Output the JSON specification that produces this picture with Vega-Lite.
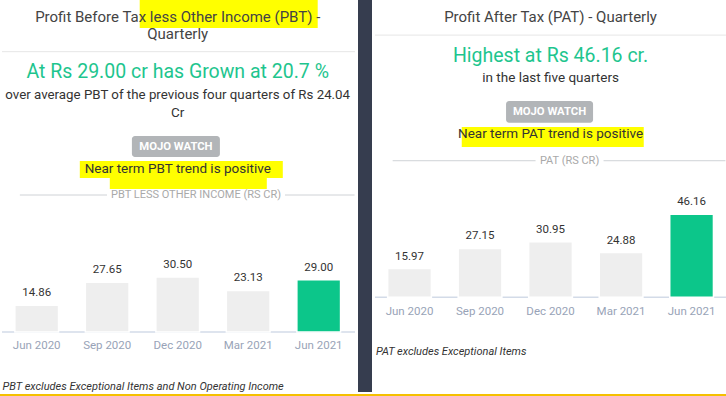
{
  "$schema": "https://vega.github.io/schema/vega-lite/v6.json",
  "padding": 0,
  "background": "white",
  "spacing": 0,
  "config": {
    "view": {"stroke": null},
    "axis": {"disable": true},
    "concat": {"spacing": 0},
    "text": {"font": "Roboto"}
  },
  "datasets": {
    "pbt": [
      {"quarter": "Jun 2020", "value": 14.86},
      {"quarter": "Sep 2020", "value": 27.65},
      {"quarter": "Dec 2020", "value": 30.5},
      {"quarter": "Mar 2021", "value": 23.13},
      {"quarter": "Jun 2021", "value": 29.0}
    ],
    "pat": [
      {"quarter": "Jun 2020", "value": 15.97},
      {"quarter": "Sep 2020", "value": 27.15},
      {"quarter": "Dec 2020", "value": 30.95},
      {"quarter": "Mar 2021", "value": 24.88},
      {"quarter": "Jun 2021", "value": 46.16}
    ],
    "one": [{}]
  },
  "vconcat": [
    {
      "hconcat": [
        {
          "width": 358,
          "height": 392,
          "data": {"name": "pbt"},
          "layer": [
            {
              "data": {"name": "one"},
              "mark": {"type": "bar", "color": "#ffff00", "width": 178, "xOffset": 51},
              "encoding": {
                "x": {"datum": "Dec 2020", "type": "nominal", "scale": {"domain": ["Jun 2020", "Sep 2020", "Dec 2020", "Mar 2021", "Jun 2021"], "paddingInner": 0.38, "paddingOuter": 0.229, "align": 0.46}},
                "y": {"datum": 168.9, "type": "quantitative", "scale": {"domain": [-33.3, 184.4], "nice": false, "zero": false}},
                "y2": {"datum": 184.4}
              }
            },
            {
              "data": {"name": "one"},
              "mark": {"type": "bar", "color": "#ffff00", "width": 203, "xOffset": 3.6},
              "encoding": {
                "x": {"datum": "Dec 2020", "type": "nominal"},
                "y": {"datum": 85.6, "type": "quantitative"},
                "y2": {"datum": 95}
              }
            },
            {
              "data": {"name": "one"},
              "mark": {"type": "bar", "color": "#ffff00", "width": 157, "xOffset": 10.6},
              "encoding": {
                "x": {"datum": "Dec 2020", "type": "nominal"},
                "y": {"datum": 79.4, "type": "quantitative"},
                "y2": {"datum": 85.7}
              }
            },
            {
              "data": {"name": "one"},
              "mark": {"type": "text", "fontSize": 15, "color": "#444444"},
              "encoding": {
                "x": {"datum": "Dec 2020", "type": "nominal"},
                "y": {"datum": 175.2, "type": "quantitative"},
                "text": {"value": "Profit Before Tax less Other Income (PBT) -"}
              }
            },
            {
              "data": {"name": "one"},
              "mark": {"type": "text", "fontSize": 15, "color": "#444444"},
              "encoding": {
                "x": {"datum": "Dec 2020", "type": "nominal"},
                "y": {"datum": 165.6, "type": "quantitative"},
                "text": {"value": "Quarterly"}
              }
            },
            {
              "data": {"name": "one"},
              "mark": {"type": "rule", "color": "#e6e6e6", "strokeWidth": 1, "xOffset": -12.85, "x2Offset": 14.4},
              "encoding": {
                "x": {"datum": "Jun 2020", "type": "nominal", "bandPosition": 0},
                "x2": {"datum": "Jun 2021", "bandPosition": 1},
                "y": {"datum": 155.7, "type": "quantitative"}
              }
            },
            {
              "data": {"name": "one"},
              "mark": {"type": "text", "fontSize": 19.5, "color": "#1ec58e"},
              "encoding": {
                "x": {"datum": "Dec 2020", "type": "nominal"},
                "y": {"datum": 144.2, "type": "quantitative"},
                "text": {"value": "At Rs 29.00 cr has Grown at 20.7 %"}
              }
            },
            {
              "data": {"name": "one"},
              "mark": {"type": "text", "fontSize": 13.3, "color": "#333333"},
              "encoding": {
                "x": {"datum": "Dec 2020", "type": "nominal"},
                "y": {"datum": 131.7, "type": "quantitative"},
                "text": {"value": "over average PBT of the previous four quarters of Rs 24.04"}
              }
            },
            {
              "data": {"name": "one"},
              "mark": {"type": "text", "fontSize": 13.5, "color": "#333333"},
              "encoding": {
                "x": {"datum": "Dec 2020", "type": "nominal"},
                "y": {"datum": 121.7, "type": "quantitative"},
                "text": {"value": "Cr"}
              }
            },
            {
              "data": {"name": "one"},
              "mark": {"type": "bar", "color": "#b2b5b8", "width": 88, "xOffset": -1.8, "cornerRadius": 3},
              "encoding": {
                "x": {"datum": "Dec 2020", "type": "nominal"},
                "y": {"datum": 97.2, "type": "quantitative"},
                "y2": {"datum": 108.9}
              }
            },
            {
              "data": {"name": "one"},
              "mark": {"type": "text", "fontSize": 11.3, "fontWeight": "bold", "color": "#ffffff", "xOffset": -1.8},
              "encoding": {
                "x": {"datum": "Dec 2020", "type": "nominal"},
                "y": {"datum": 102.9, "type": "quantitative"},
                "text": {"value": "MOJO WATCH"}
              }
            },
            {
              "data": {"name": "one"},
              "mark": {"type": "text", "fontSize": 13.5, "color": "#333333"},
              "encoding": {
                "x": {"datum": "Dec 2020", "type": "nominal"},
                "y": {"datum": 90.3, "type": "quantitative"},
                "text": {"value": "Near term PBT trend is positive"}
              }
            },
            {
              "data": {"name": "one"},
              "mark": {"type": "rule", "color": "#cfd2d6", "strokeWidth": 1, "xOffset": 5, "x2Offset": 14},
              "encoding": {
                "x": {"datum": "Jun 2020", "type": "nominal", "bandPosition": 0},
                "x2": {"datum": "Jun 2021", "bandPosition": 1},
                "y": {"datum": 76.1, "type": "quantitative"}
              }
            },
            {
              "data": {"name": "one"},
              "mark": {"type": "bar", "color": "#ffffff", "width": 178, "xOffset": 18.3},
              "encoding": {
                "x": {"datum": "Dec 2020", "type": "nominal"},
                "y": {"datum": 72.5, "type": "quantitative"},
                "y2": {"datum": 79.2}
              }
            },
            {
              "data": {"name": "one"},
              "mark": {"type": "text", "fontSize": 11, "color": "#a9a9a9", "xOffset": 18.3},
              "encoding": {
                "x": {"datum": "Dec 2020", "type": "nominal"},
                "y": {"datum": 76.1, "type": "quantitative"},
                "text": {"value": "PBT LESS OTHER INCOME (RS CR)"}
              }
            },
            {
              "data": {"name": "one"},
              "mark": {"type": "rule", "color": "#d3dbe8", "strokeWidth": 1.5, "xOffset": -12.85, "x2Offset": 14.4},
              "encoding": {
                "x": {"datum": "Jun 2020", "type": "nominal", "bandPosition": 0},
                "x2": {"datum": "Jun 2021", "bandPosition": 1},
                "y": {"datum": 0, "type": "quantitative"}
              }
            },
            {
              "mark": {"type": "bar", "stroke": "#ffffff", "strokeWidth": 1.5},
              "encoding": {
                "x": {"field": "quarter", "type": "nominal", "sort": null, "axis": null},
                "y": {"field": "value", "type": "quantitative", "axis": null},
                "color": {"condition": {"test": "datum.quarter === 'Jun 2021'", "value": "#0cc68a"}, "value": "#eeeeee"}
              }
            },
            {
              "mark": {"type": "text", "fontSize": 11.5, "color": "#333333", "baseline": "alphabetic", "dy": -9},
              "encoding": {
                "x": {"field": "quarter", "type": "nominal", "sort": null},
                "y": {"field": "value", "type": "quantitative"},
                "text": {"field": "value", "type": "quantitative", "format": ".2f"}
              }
            },
            {
              "mark": {"type": "text", "fontSize": 11.5, "color": "#98a3b7"},
              "encoding": {
                "x": {"field": "quarter", "type": "nominal", "sort": null},
                "y": {"datum": -7.8, "type": "quantitative"},
                "text": {"field": "quarter"}
              }
            },
            {
              "data": {"name": "one"},
              "mark": {"type": "text", "fontSize": 11, "fontStyle": "italic", "color": "#333333", "align": "left", "xOffset": -12.3},
              "encoding": {
                "x": {"datum": "Jun 2020", "type": "nominal", "bandPosition": 0},
                "y": {"datum": -30.6, "type": "quantitative"},
                "text": {"value": "PBT excludes Exceptional Items and Non Operating Income"}
              }
            }
          ]
        },
        {
          "width": 14,
          "height": 392,
          "view": {"fill": "#363d4f", "stroke": null},
          "data": {"name": "one"},
          "mark": {"type": "point", "opacity": 0},
          "encoding": {}
        },
        {
          "width": 354,
          "height": 392,
          "data": {"name": "pat"},
          "layer": [
            {
              "data": {"name": "one"},
              "mark": {"type": "bar", "color": "#ffff00", "width": 182, "xOffset": 2.2},
              "encoding": {
                "x": {"datum": "Dec 2020", "type": "nominal", "scale": {"domain": ["Jun 2020", "Sep 2020", "Dec 2020", "Mar 2021", "Jun 2021"], "paddingInner": 0.38, "paddingOuter": 0.2, "align": 0.555}},
                "y": {"datum": 83.5, "type": "quantitative", "scale": {"domain": [-52.6, 165.2], "nice": false, "zero": false}},
                "y2": {"datum": 94.6}
              }
            },
            {
              "data": {"name": "one"},
              "mark": {"type": "text", "fontSize": 15, "color": "#444444"},
              "encoding": {
                "x": {"datum": "Dec 2020", "type": "nominal"},
                "y": {"datum": 155.7, "type": "quantitative"},
                "text": {"value": "Profit After Tax (PAT) - Quarterly"}
              }
            },
            {
              "data": {"name": "one"},
              "mark": {"type": "rule", "color": "#e6e6e6", "strokeWidth": 1, "xOffset": -12.65, "x2Offset": 12.5},
              "encoding": {
                "x": {"datum": "Jun 2020", "type": "nominal", "bandPosition": 0},
                "x2": {"datum": "Jun 2021", "bandPosition": 1},
                "y": {"datum": 145.7, "type": "quantitative"}
              }
            },
            {
              "data": {"name": "one"},
              "mark": {"type": "text", "fontSize": 19.5, "color": "#1ec58e"},
              "encoding": {
                "x": {"datum": "Dec 2020", "type": "nominal"},
                "y": {"datum": 134.1, "type": "quantitative"},
                "text": {"value": "Highest at Rs 46.16 cr."}
              }
            },
            {
              "data": {"name": "one"},
              "mark": {"type": "text", "fontSize": 13.5, "color": "#333333"},
              "encoding": {
                "x": {"datum": "Dec 2020", "type": "nominal"},
                "y": {"datum": 121.8, "type": "quantitative"},
                "text": {"value": "in the last five quarters"}
              }
            },
            {
              "data": {"name": "one"},
              "mark": {"type": "bar", "color": "#b2b5b8", "width": 87, "xOffset": -1, "cornerRadius": 3},
              "encoding": {
                "x": {"datum": "Dec 2020", "type": "nominal"},
                "y": {"datum": 97.0, "type": "quantitative"},
                "y2": {"datum": 109.1}
              }
            },
            {
              "data": {"name": "one"},
              "mark": {"type": "text", "fontSize": 11.3, "fontWeight": "bold", "color": "#ffffff", "xOffset": -1},
              "encoding": {
                "x": {"datum": "Dec 2020", "type": "nominal"},
                "y": {"datum": 103.1, "type": "quantitative"},
                "text": {"value": "MOJO WATCH"}
              }
            },
            {
              "data": {"name": "one"},
              "mark": {"type": "text", "fontSize": 13.5, "color": "#333333"},
              "encoding": {
                "x": {"datum": "Dec 2020", "type": "nominal"},
                "y": {"datum": 90.7, "type": "quantitative"},
                "text": {"value": "Near term PAT trend is positive"}
              }
            },
            {
              "data": {"name": "one"},
              "mark": {"type": "rule", "color": "#cfd2d6", "strokeWidth": 1, "xOffset": 5, "x2Offset": 12},
              "encoding": {
                "x": {"datum": "Jun 2020", "type": "nominal", "bandPosition": 0},
                "x2": {"datum": "Jun 2021", "bandPosition": 1},
                "y": {"datum": 75.9, "type": "quantitative"}
              }
            },
            {
              "data": {"name": "one"},
              "mark": {"type": "bar", "color": "#ffffff", "width": 68, "xOffset": 19},
              "encoding": {
                "x": {"datum": "Dec 2020", "type": "nominal"},
                "y": {"datum": 72.3, "type": "quantitative"},
                "y2": {"datum": 79.5}
              }
            },
            {
              "data": {"name": "one"},
              "mark": {"type": "text", "fontSize": 11, "color": "#a9a9a9", "xOffset": 19},
              "encoding": {
                "x": {"datum": "Dec 2020", "type": "nominal"},
                "y": {"datum": 75.9, "type": "quantitative"},
                "text": {"value": "PAT (RS CR)"}
              }
            },
            {
              "data": {"name": "one"},
              "mark": {"type": "rule", "color": "#d3dbe8", "strokeWidth": 1.5, "xOffset": -12.65, "x2Offset": 12.5},
              "encoding": {
                "x": {"datum": "Jun 2020", "type": "nominal", "bandPosition": 0},
                "x2": {"datum": "Jun 2021", "bandPosition": 1},
                "y": {"datum": 0, "type": "quantitative"}
              }
            },
            {
              "mark": {"type": "bar", "stroke": "#ffffff", "strokeWidth": 1.5},
              "encoding": {
                "x": {"field": "quarter", "type": "nominal", "sort": null, "axis": null},
                "y": {"field": "value", "type": "quantitative", "axis": null},
                "color": {"condition": {"test": "datum.quarter === 'Jun 2021'", "value": "#0cc68a"}, "value": "#eeeeee"}
              }
            },
            {
              "mark": {"type": "text", "fontSize": 11.5, "color": "#333333", "baseline": "alphabetic", "dy": -9},
              "encoding": {
                "x": {"field": "quarter", "type": "nominal", "sort": null},
                "y": {"field": "value", "type": "quantitative"},
                "text": {"field": "value", "type": "quantitative", "format": ".2f"}
              }
            },
            {
              "mark": {"type": "text", "fontSize": 11.5, "color": "#98a3b7"},
              "encoding": {
                "x": {"field": "quarter", "type": "nominal", "sort": null},
                "y": {"datum": -8.0, "type": "quantitative"},
                "text": {"field": "quarter"}
              }
            },
            {
              "data": {"name": "one"},
              "mark": {"type": "text", "fontSize": 11, "fontStyle": "italic", "color": "#333333", "align": "left", "xOffset": -11.7},
              "encoding": {
                "x": {"datum": "Jun 2020", "type": "nominal", "bandPosition": 0},
                "y": {"datum": -30.4, "type": "quantitative"},
                "text": {"value": "PAT excludes Exceptional Items"}
              }
            }
          ]
        }
      ],
      "spacing": 0
    },
    {
      "width": 726,
      "height": 4,
      "view": {"fill": "#f5c000", "stroke": null},
      "data": {"name": "one"},
      "mark": {"type": "point", "opacity": 0},
      "encoding": {}
    }
  ]
}
